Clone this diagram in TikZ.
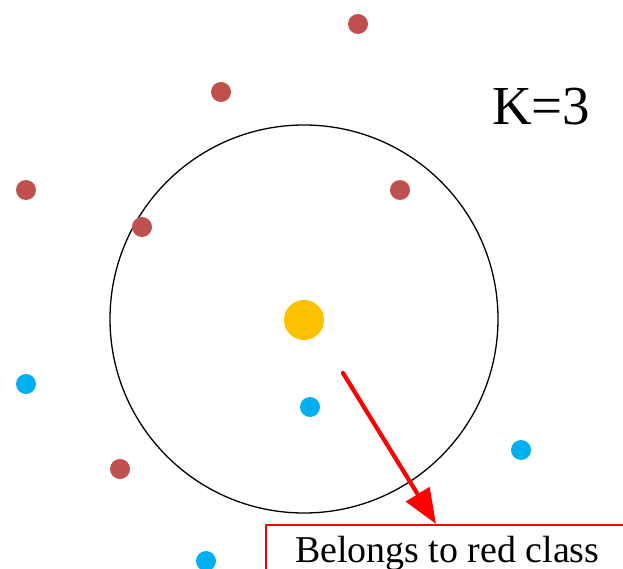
\documentclass[tikz,border=0pt]{standalone}
\usepackage{fontspec}
\setmainfont{Liberation Serif}
\usetikzlibrary{arrows.meta}
\definecolor{redpt}{HTML}{C0504D}
\definecolor{bluept}{HTML}{00B0F0}
\definecolor{yellowpt}{HTML}{FFC000}
\tikzset{
  redclass/.style={circle,fill=redpt,minimum size=20pt,inner sep=0pt},
  blueclass/.style={circle,fill=bluept,minimum size=20pt,inner sep=0pt},
  query/.style={circle,fill=yellowpt,minimum size=40pt,inner sep=0pt},
  pointer/.style={draw=red,line width=4.2pt,line cap=round,-{Triangle[length=35pt,width=27pt]}},
}
\begin{document}
\begin{tikzpicture}[x=1pt,y=-1pt]
\useasboundingbox (0,0) rectangle (623,569);
\clip (0,0) rectangle (623,569);
% neighbourhood circle
\node (hood) [circle,draw=black,line width=1.3pt,minimum size=388pt,inner sep=0pt] at (304,319) {};
% red points
\node (r1) [redclass] at (358,24) {};
\node (r2) [redclass] at (221,92) {};
\node (r3) [redclass] at (26,190) {};
\node (r4) [redclass] at (400,190) {};
\node (r5) [redclass] at (142,227) {};
\node (r6) [redclass] at (120,469) {};
% blue points
\node (b1) [blueclass] at (26,384) {};
\node (b2) [blueclass] at (310,407) {};
\node (b3) [blueclass] at (521,450) {};
\node (b4) [blueclass] at (206,561) {};
% query point
\node (q) [query] at (304,320) {};
% K label
\node (k) [anchor=base west,inner sep=0pt,font=\fontsize{55}{60}\selectfont] at (492,125) {K=3};
% label box
\node (box) [draw=red,line width=1.5pt,anchor=north west,minimum width=420pt,minimum height=100pt,inner sep=0pt] at (265,524) {};
\node (lbl) [anchor=base west,inner sep=0pt,font=\fontsize{37.9}{40}\selectfont] at (295,562) {Belongs to red class};
\coordinate (start) at (343,373);
\coordinate (tip) at (436,524);
\draw[pointer] (start) -- (tip);
\end{tikzpicture}
\end{document}
